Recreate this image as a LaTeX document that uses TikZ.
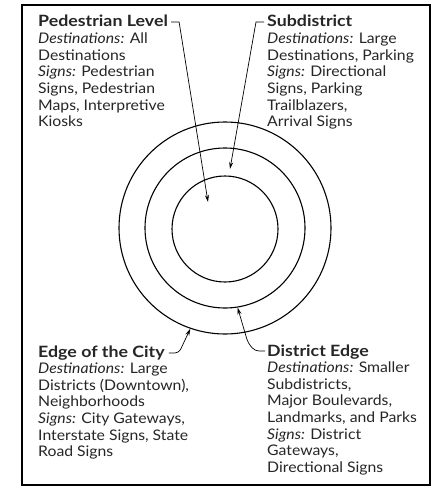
\documentclass[tikz,border=0pt]{standalone}
\usepackage{fontspec}
\setmainfont{Lato}[FakeStretch=1.08, BoldFeatures={FakeStretch=1.14}]
\usetikzlibrary{arrows.meta}
\definecolor{txt}{HTML}{262626}
\tikzset{
  ring/.style={draw=black, line width=1.1pt, circle, inner sep=0pt},
  ttl/.style={anchor=base west, inner sep=0pt, font=\fontsize{15.6}{16.6}\selectfont\bfseries, text=txt},
  body/.style={anchor=north west, inner sep=0pt, align=left, font=\fontsize{14.6}{16.6}\selectfont, text=txt},
  arr/.style={draw=black, line width=0.7pt, -{Stealth[length=7pt,width=4pt]}},
}
\begin{document}
\begin{tikzpicture}[x=1pt,y=-1pt]
\useasboundingbox (0,0) rectangle (436,487);
\fill[white] (0,0) rectangle (436,487);
\draw[line width=1.6pt] (22,5) rectangle (430,485);
% rings
\node[ring, minimum size=212pt] (outer) at (225,228) {};
\node[ring, minimum size=160pt] (middle) at (225,228) {};
\node[ring, minimum size=106pt] (inner) at (225,229) {};
% texts
\node[ttl] (ped) at (38,27) {Pedestrian Level};
\node[body] (pedb) at ([yshift=-5.8pt]ped.base west) {\textit{Destinations:} All\\Destinations\\\textit{Signs:} Pedestrian\\Signs, Pedestrian\\Maps, Interpretive\\Kiosks};
\node[ttl] (sub) at (267,27) {Subdistrict};
\node[body] (subb) at ([yshift=-5.8pt]sub.base west) {\textit{Destinations:} Large\\Destinations, Parking\\\textit{Signs:} Directional\\Signs, Parking\\Trailblazers,\\Arrival Signs};
\node[ttl] (edge) at (38,357) {Edge of the City};
\node[body] (edgeb) at ([yshift=-5.8pt]edge.base west) {\textit{Destinations:} Large\\Districts (Downtown),\\Neighborhoods\\\textit{Signs:} City Gateways,\\Interstate Signs, State\\Road Signs};
\node[ttl] (dist) at (267,356) {District Edge};
\node[body] (distb) at ([yshift=-5.8pt]dist.base west) {\textit{Destinations:} Smaller\\Subdistricts,\\Major Boulevards,\\Landmarks, and Parks\\\textit{Signs:} District\\Gateways,\\Directional Signs};
% arrow tips
\coordinate (pedtip) at (208,202);
\coordinate (subtip) at (230,169);
% connectors
\draw[arr] ([xshift=3pt,yshift=5pt]ped.base east) -- ++(8,0) -- (pedtip);
\draw[arr] ([xshift=-3pt,yshift=5pt]sub.base west) -- ++(-8,0) -- (subtip);
\draw[arr, rounded corners=4pt] ([xshift=4pt,yshift=4pt]edge.base east) -- ++(10,0) -- (outer.251);
\draw[arr, rounded corners=4pt] ([xshift=-2pt,yshift=5pt]dist.base west) -- ++(-10,0) -- ++(-7,-8) -- (middle.279);
\end{tikzpicture}
\end{document}
